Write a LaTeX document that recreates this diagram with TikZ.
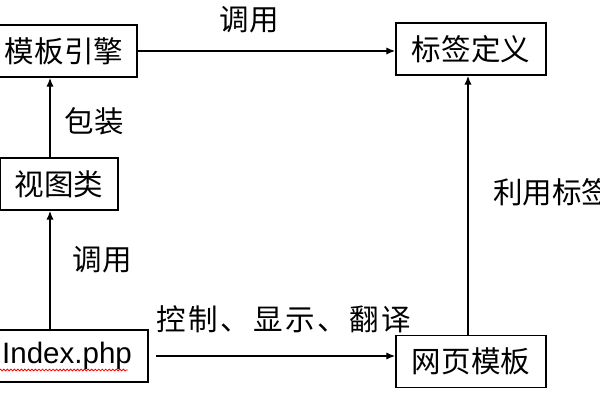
\documentclass[tikz,border=0pt]{standalone}
\usepackage{fontspec}
\setmainfont{Liberation Sans}
\newfontfamily\cjk{Noto Sans CJK SC}
\usepackage{xcolor}
\usetikzlibrary{arrows.meta,positioning,decorations.pathmorphing}
\definecolor{ink}{HTML}{000000}
\definecolor{squiggle}{HTML}{FF0000}
\tikzset{
  block/.style={draw=ink,line width=1.2pt,minimum height=1.3cm,inner sep=0pt,align=center,font=\cjk\fontsize{21}{24}\selectfont},
  flow/.style={-{Latex[length=2.2mm,width=1.8mm]},line width=0.9pt,draw=ink},
  note/.style={inner sep=0pt,font=\cjk\fontsize{21}{24}\selectfont},
  wavy/.style={draw=squiggle,line width=0.6pt,decorate,decoration={snake,amplitude=0.6pt,segment length=2.5pt}}
}
\begin{document}
\begin{tikzpicture}[x=0.025cm,y=-0.025cm]
  \useasboundingbox (0,0) rectangle (600,400);
  \clip (0,0) rectangle (600,400);
  % boxes
  \node[block,minimum width=3.65cm] (engine) at (64,51) {模板引擎};
  \node[block,minimum width=2.95cm] (view) at (59,184) {视图类};
  \node[block,minimum width=4.05cm,font=\fontsize{21}{24}\selectfont] (index) at (67,356) {Index.php};
  \node[block,minimum width=3.75cm] (tags) at (471,49) {标签定义};
  \node[block,minimum width=3.75cm] (page) at (471,361.5) {网页模板};
  \coordinate (leftcol) at (50,0);
  \coordinate (rightcol) at (468,0);
  % connectors
  \draw[flow] (engine.east) -- (engine.east -| tags.west);
  \draw[flow] (view.north -| leftcol) -- (engine.south -| leftcol);
  \draw[flow] (index.north -| leftcol) -- (view.south -| leftcol);
  \draw[flow] ([xshift=0.18cm]index.east) -- (index.east -| page.west);
  \draw[flow] (page.north -| rightcol) -- (tags.south -| rightcol);
  % labels
  \node[note] (callTop) at (249,20) {调用};
  \node[note] (wrap) at (94,121) {包装};
  \node[note] (callLeft) at (102,260) {调用};
  \node[note,font=\cjk\fontsize{21}{24}\selectfont\addfontfeature{LetterSpace=9}] (control) at (284,319) {控制、显示、翻译};
  \node[note,anchor=west] (useTags) at (493,192) {利用标签};
  \draw[wavy] ([yshift=-0.35cm]index.west) -- ([xshift=1.52cm,yshift=-0.35cm]index.center);
\end{tikzpicture}
\end{document}
